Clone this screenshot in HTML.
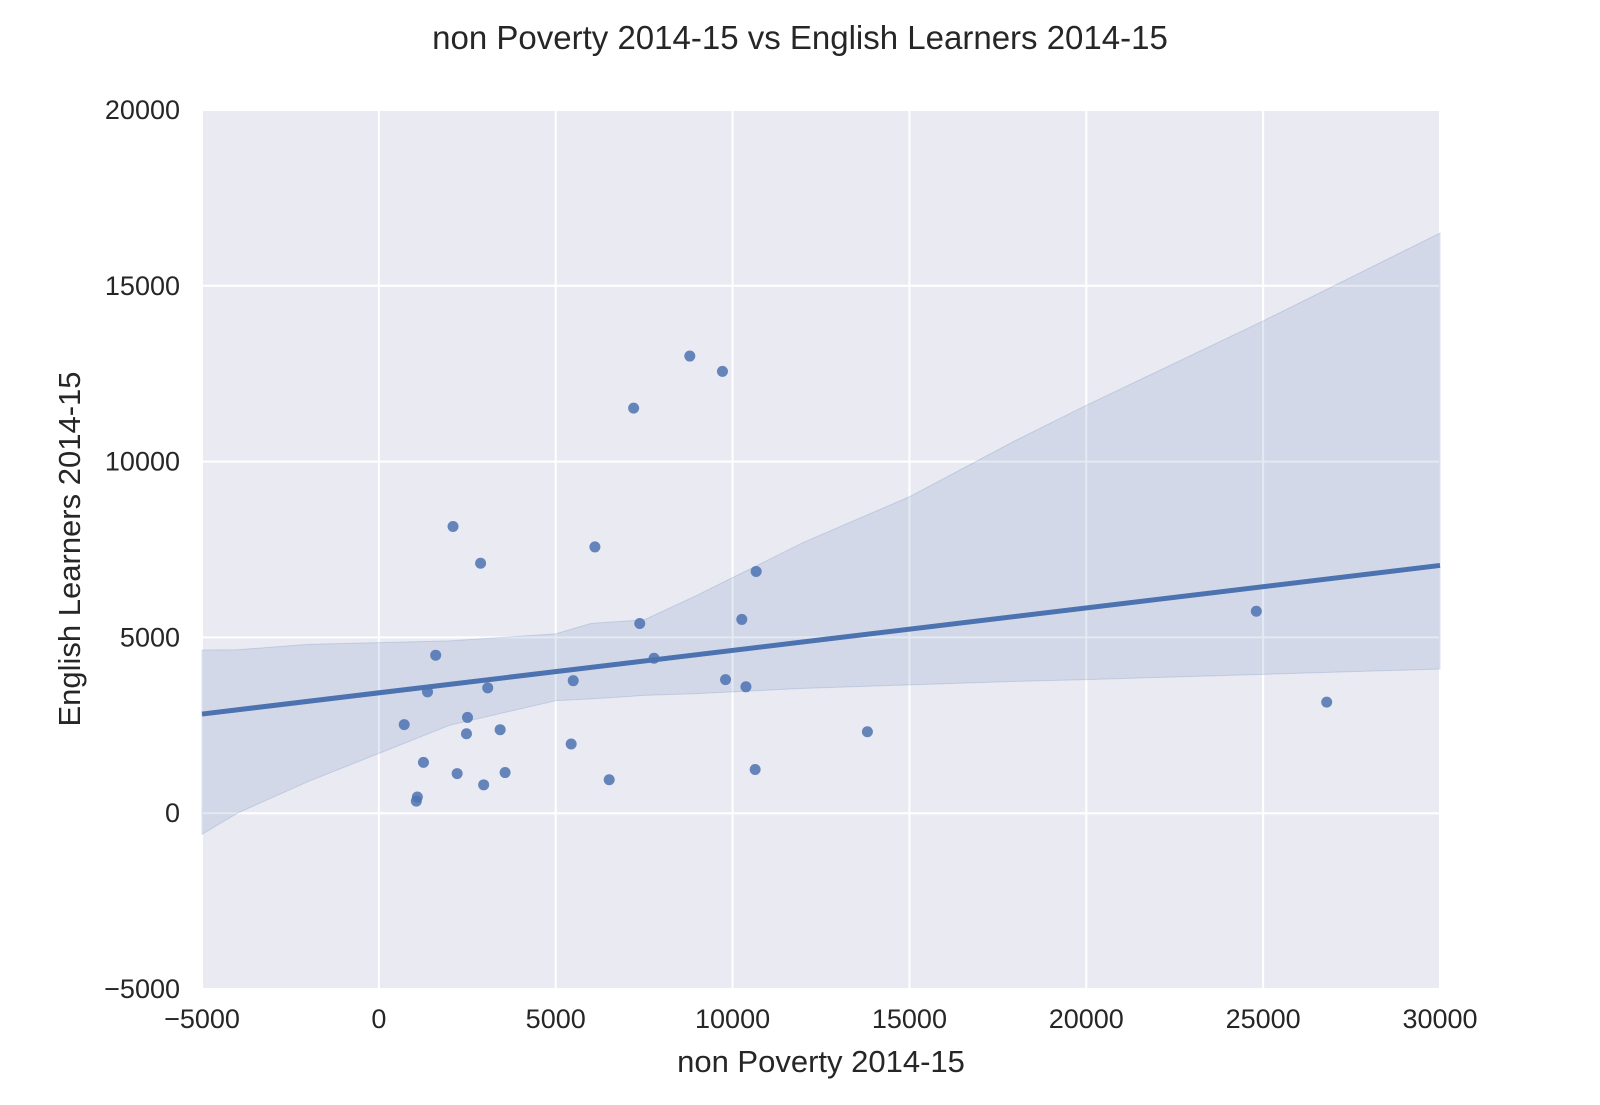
<!DOCTYPE html>
<html><head><meta charset="utf-8"><style>
body{margin:0;background:#fff;font-family:"Liberation Sans",sans-serif}
</style></head><body>
<svg id="chart" width="1600" height="1100" xmlns="http://www.w3.org/2000/svg" font-family="Liberation Sans, sans-serif">
<rect width="1600" height="1100" fill="#fff"/>
<text x="800" y="49" text-anchor="middle" font-size="33" fill="#262626">non Poverty 2014-15 vs English Learners 2014-15</text>
<rect x="202" y="110" width="1238" height="879" fill="#EAEAF2"/>
<g id="grid"></g><g id="band"></g><g id="pts"></g><g id="line"></g><g id="ticks"></g>
<text x="821" y="1072" text-anchor="middle" font-size="31" fill="#262626">non Poverty 2014-15</text>
<text transform="translate(80,549) rotate(-90)" text-anchor="middle" font-size="31" fill="#262626">English Learners 2014-15</text>
</svg>
<script>
const xVals=[8791,9714,7203,2097,2876,6108,10667,7376,10261,24807,1607,7780,5495,9801,10378,1376,3078,26797,717,2506,2477,3429,13812,5437,1261,2213,3569,10638,6512,2963,1088,1059];
const yVals=[13002,12566,11521,8153,7108,7573,6876,5395,5511,5743,4494,4408,3769,3798,3595,3450,3566,3159,2520,2724,2259,2375,2317,1968,1446,1127,1156,1243,952,807,459,343];
const xTicks=[-5000,0,5000,10000,15000,20000,25000,30000];
const yTicks=[-5000,0,5000,10000,15000,20000];
const bandX=[-5000,-4000,-2000,0,2000,5000,6000,7500,9000,10000,12000,15000,18000,20000,25000,30000];
const bandUpper=[4640,4650,4800,4850,4900,5100,5400,5500,6200,6700,7700,9000,10600,11600,14000,16500];
const bandLower=[-600,0,900,1700,2500,3200,3250,3350,3400,3450,3550,3650,3750,3800,3950,4100];
const X0=202,X1=1440,Y0=989,Y1=110;
const sx=v=>X0+(v+5000)/35000*(X1-X0);
const sy=v=>Y0-(v+5000)/25000*(Y0-Y1);
const NS="http://www.w3.org/2000/svg";
function mk(t,a,p){const e=document.createElementNS(NS,t);for(const k in a)e.setAttribute(k,a[k]);p.appendChild(e);return e;}
const grid=document.getElementById('grid'),ticks=document.getElementById('ticks');
xTicks.forEach(t=>{
 const l=mk('line',{x1:sx(t),x2:sx(t),y1:Y1,y2:Y0,stroke:'#fff','stroke-width':2},grid);
 
 
 const tx=mk('text',{x:sx(t),y:1028,'text-anchor':'middle','font-size':27,fill:'#262626'},ticks);
 tx.textContent=t<0?'\u2212'+(-t):t;
 
 
});
yTicks.forEach(t=>{
 const l=mk('line',{x1:X0,x2:X1,y1:sy(t),y2:sy(t),stroke:'#fff','stroke-width':2},grid);
 
 
 const tx=mk('text',{x:180,y:sy(t)+9,'text-anchor':'end','font-size':27,fill:'#262626'},ticks);
 tx.textContent=t<0?'\u2212'+(-t):t;
 
 
});
const n=xVals.length;const mx=xVals.reduce((a,b)=>a+b)/n,my=yVals.reduce((a,b)=>a+b)/n;
let sxx=0,sxy=0;for(let i=0;i<n;i++){sxx+=(xVals[i]-mx)**2;sxy+=(xVals[i]-mx)*(yVals[i]-my);}
const b=sxy/sxx,a=my-b*mx;
const up=bandX.map((x,i)=>sx(x)+','+sy(bandUpper[i]));
const lo=bandX.map((x,i)=>sx(x)+','+sy(bandLower[i])).reverse();
const band=mk('polygon',{points:up.concat(lo).join(' '),fill:'#4C72B0','fill-opacity':0.15,stroke:'#4C72B0','stroke-opacity':0.2},document.getElementById('band'));


const rl=mk('line',{x1:sx(-5000),y1:sy(a+b*-5000),x2:sx(30000),y2:sy(a+b*30000),stroke:'#4C72B0','stroke-width':5},document.getElementById('line'));


const pts=document.getElementById('pts');
for(let i=0;i<n;i++){
 const c=mk('circle',{cx:sx(xVals[i]),cy:sy(yVals[i]),r:5.5,fill:'#4C72B0','fill-opacity':0.85},pts);
 
 
}
</script>
</body></html>
